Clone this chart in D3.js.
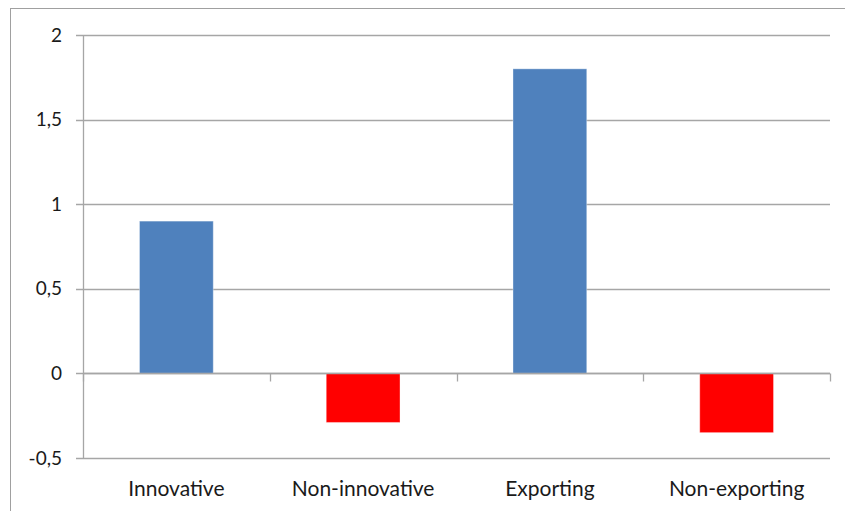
<!DOCTYPE html>
<html><head><meta charset="utf-8">
<script src="https://cdn.jsdelivr.net/npm/d3@7"></script>
<style>body{margin:0;background:#fff}svg{display:block}</style>
</head><body><div id="c"></div>
<script>
const categories = ["Innovative","Non-innovative","Exporting","Non-exporting"];
const values = [0.9,-0.29,1.8,-0.35];
const colors = ["#4F81BD","#FF0000","#4F81BD","#FF0000"];
const yTicks = [-0.5,0,0.5,1,1.5,2];

const W=845,H=511;
const svg=d3.select("#c").append("svg").attr("width",W).attr("height",H);
svg.append("rect").attr("x",10.5).attr("y",8.5).attr("width",900).attr("height",600)
  .attr("fill","#fff").attr("stroke","#a0a0a0").attr("stroke-width",1);

const L=83,R=830,T=35,B=458;
const y=d3.scaleLinear().domain([-0.5,2]).range([B,T]);
const x=d3.scaleBand().domain(categories).range([L,R]).padding(0);
const font="Lato, 'Open Sans', sans-serif";
const gridCol="#a6a6a6";

svg.append("g").selectAll("line").data(yTicks).join("line")
  .attr("x1",L-7).attr("x2",R).attr("y1",d=>Math.round(y(d))+0.5).attr("y2",d=>Math.round(y(d))+0.5)
  .attr("stroke",gridCol).attr("stroke-width",1.3);
svg.append("line").attr("x1",L+0.5).attr("x2",L+0.5).attr("y1",T).attr("y2",B)
  .attr("stroke",gridCol).attr("stroke-width",1.3);
svg.append("g").selectAll("text").data(yTicks).join("text")
  .attr("x",62).attr("y",d=>y(d)).attr("dy","0.35em").attr("text-anchor","end")
  .attr("font-family",font).attr("font-size",19).attr("fill","#1a1a1a")
  .text(d=>String(d).replace(".",","));

const bw=x.bandwidth()*0.395;
svg.append("g").selectAll("rect").data(values).join("rect")
  .attr("x",(d,i)=>x(categories[i])+x.bandwidth()/2-bw/2)
  .attr("width",bw)
  .attr("y",d=>y(Math.max(0,d)))
  .attr("height",d=>Math.abs(y(d)-y(0)))
  .attr("fill",(d,i)=>colors[i])
  .attr("stroke","rgba(255,255,255,0.35)").attr("stroke-width",1);

const y0=Math.round(y(0))+0.5;
svg.append("line").attr("x1",L).attr("x2",R).attr("y1",y0).attr("y2",y0)
  .attr("stroke",gridCol).attr("stroke-width",1.3);
const xt=categories.map(c=>x(c)).concat([R]);
svg.append("g").selectAll("line").data(xt).join("line")
  .attr("x1",d=>Math.round(d)+0.5).attr("x2",d=>Math.round(d)+0.5).attr("y1",y0).attr("y2",y0+8)
  .attr("stroke",gridCol).attr("stroke-width",1.3);
svg.append("g").selectAll("text").data(categories).join("text")
  .attr("x",d=>x(d)+x.bandwidth()/2).attr("y",496).attr("text-anchor","middle")
  .attr("font-family",font).attr("font-size",21).attr("fill","#1a1a1a")
  .text(d=>d);
</script></body></html>
